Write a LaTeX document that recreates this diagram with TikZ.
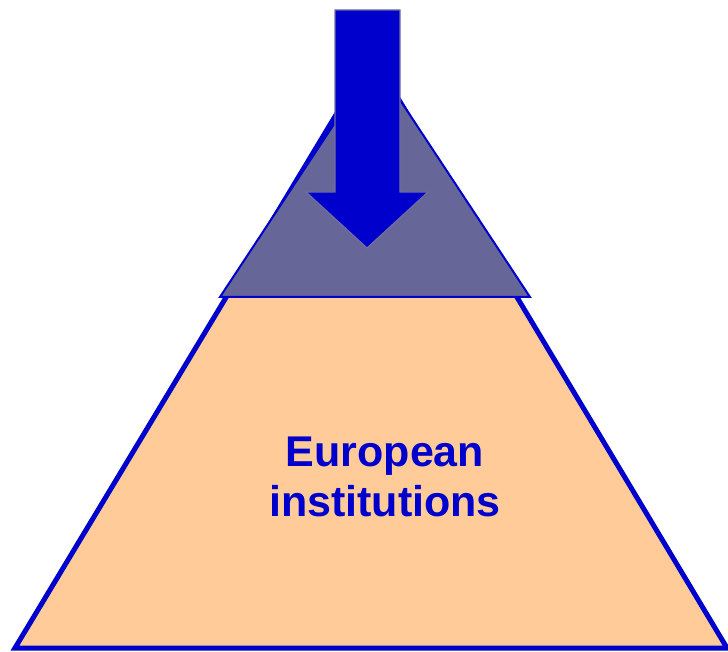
\documentclass[tikz,border=0pt]{standalone}
\usepackage{fontspec}
\setmainfont{Liberation Sans}
\usepackage{tikz}
\usetikzlibrary{positioning, calc}
\definecolor{EUBlue}{RGB}{0,0,204}
\definecolor{EUPeach}{RGB}{255,204,153}
\definecolor{EUSlate}{RGB}{102,102,153}
\definecolor{EUEdge}{RGB}{112,112,160}

\begin{document}
\begin{tikzpicture}[x=1pt, y=-1pt,
    bigtri/.style={draw=EUBlue, fill=EUPeach, line width=5pt, line join=miter},
    toptri/.style={draw=EUBlue, fill=EUSlate, line width=2pt, line join=miter},
    downarr/.style={draw=EUEdge, fill=EUBlue, line width=1.2pt},
    lbl/.style={font=\fontsize{43}{50}\selectfont\bfseries, text=EUBlue, align=center}
  ]
  \useasboundingbox (0,0) rectangle (728,652);

  % main pyramid
  \coordinate (apex) at (372,55);
  \coordinate (bl) at (15,648);
  \coordinate (br) at (727,648);
  \draw[bigtri] (apex) -- (br) -- (bl) -- cycle;

  % top of the pyramid
  \coordinate (tapex) at (375,62);
  \coordinate (tl) at (220,297);
  \coordinate (tr) at (530,297);
  \draw[toptri] (tapex) -- (tr) -- (tl) -- cycle;

  % arrow coming down
  \draw[downarr] (335,10) -- (400,10) -- (400,192) -- (428,192)
    -- (367,248) -- (306,192) -- (335,192) -- cycle;

  % label
  \node[lbl] (eu) at (385,477) {European\\institutions};
\end{tikzpicture}
\end{document}
